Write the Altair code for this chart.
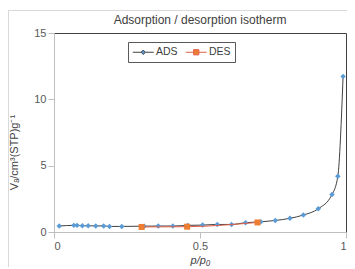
import altair as alt
import pandas as pd

# Adsorption branch
p_ads = [0.018, 0.068, 0.079, 0.097, 0.117, 0.143, 0.170, 0.190, 0.232, 0.309,
         0.357, 0.407, 0.458, 0.509, 0.559, 0.608, 0.656, 0.708, 0.758, 0.808,
         0.854, 0.905, 0.952, 0.972, 0.990]
v_ads = [0.45, 0.50, 0.50, 0.47, 0.47, 0.46, 0.46, 0.42, 0.42, 0.44,
         0.45, 0.45, 0.50, 0.52, 0.57, 0.57, 0.70, 0.77, 0.87, 1.03,
         1.28, 1.75, 2.82, 4.20, 11.73]
# Desorption branch
p_des = [0.300, 0.456, 0.697]
v_des = [0.38, 0.40, 0.72]

series = ["ADS", "DES"]

ads = pd.DataFrame({"p": p_ads, "v": v_ads, "series": "ADS"})
des = pd.DataFrame({"p": p_des, "v": v_des, "series": "DES"})
leg = pd.DataFrame({"series": series})

FONT = "Liberation Sans"
BLUE = "#5B9BD5"
ORANGE = "#ED7D31"
DES_LINE = "#E0604A"
ADS_LINE = "#404040"

x_enc = alt.X("p:Q", scale=alt.Scale(domain=[0, 1], nice=False),
              axis=alt.Axis(values=[0, 0.5, 1], format="~g", title="p/p₀",
                            titleFontStyle="italic", titleFontWeight="normal",
                            titleX=146, titleY=28, titleBaseline="middle"))
y_enc = alt.Y("v:Q", scale=alt.Scale(domain=[0, 15], nice=False),
              axis=alt.Axis(values=[0, 5, 10, 15], title="Vₐ/cm³(STP)g⁻¹",
                            titleFontWeight="normal", titleX=-40, titleY=119,
                            titleAngle=270, titleAlign="center",
                            titleBaseline="middle"))

ads_line = alt.Chart(ads).mark_line(color=ADS_LINE, strokeWidth=1,
                                    interpolate="monotone").encode(x=x_enc, y=y_enc)
ads_pts = alt.Chart(ads).mark_point(shape="diamond", filled=True, color=BLUE,
                                    size=30, opacity=1).encode(x="p:Q", y="v:Q")
des_line = alt.Chart(des).mark_line(color=DES_LINE, strokeWidth=1,
                                    interpolate="monotone").encode(x="p:Q", y="v:Q")
des_pts = alt.Chart(des).mark_point(shape="square", filled=True, color=ORANGE,
                                    size=36, opacity=1).encode(x="p:Q", y="v:Q")

path_ads = "M-1,0L0.6,0M1.4,0L3,0M1,-0.42L1.42,0L1,0.42L0.58,0Z"
path_des = "M-1,0L0.5,0M1.5,0L3,0M0.5,-0.5L1.5,-0.5L1.5,0.5L0.5,0.5Z"

lg = alt.Legend(title=None, orient="none", legendX=74, legendY=9,
                direction="horizontal", padding=4, columnPadding=5,
                labelOffset=12, symbolSize=110, symbolStrokeWidth=1,
                labelFont=FONT, labelFontSize=10.5, labelColor="#404040",
                strokeColor="#595959", fillColor="white", cornerRadius=0)

legend_layer = alt.Chart(leg).transform_filter("false").mark_point(
    filled=True, opacity=1, strokeWidth=1).encode(
    fill=alt.Fill("series:N", scale=alt.Scale(domain=series, range=[BLUE, ORANGE]), legend=lg),
    stroke=alt.Stroke("series:N", scale=alt.Scale(domain=series, range=[ADS_LINE, DES_LINE]), legend=lg),
    shape=alt.Shape("series:N", scale=alt.Scale(domain=series, range=[path_ads, path_des]), legend=lg),
)

# Decorative outer chart border (left and top edges)
border_v = alt.Chart(leg).mark_rule(color="#D9D9D9", strokeWidth=1, clip=False).encode(
    x=alt.value(-45.5), y=alt.value(-23), y2=alt.value(240))
border_h = alt.Chart(leg).mark_rule(color="#D9D9D9", strokeWidth=1, clip=False).encode(
    x=alt.value(-46), x2=alt.value(300), y=alt.value(-22.5))

chart = alt.layer(border_v, border_h, ads_line, ads_pts, des_line, des_pts, legend_layer).properties(
    width=292, height=199,
    title=alt.Title("Adsorption / desorption isotherm", font=FONT, fontSize=12,
                    fontWeight="normal", color="#404040", anchor="middle", offset=-17),
    autosize=alt.AutoSizeParams(type="none"),
    padding={"left": 46, "top": 25, "right": 1, "bottom": 35},
).configure_view(stroke="#404040", strokeWidth=1).configure_axis(
    grid=False, domainColor="#BFBFBF", tickColor="#BFBFBF", tickSize=6,
    labelFont=FONT, labelFontSize=11, labelColor="#595959", labelPadding=2,
    titleFont=FONT, titleFontSize=11, titleColor="#404040",
)

chart.save("out.html", embed_options={"renderer": "svg", "actions": False})
